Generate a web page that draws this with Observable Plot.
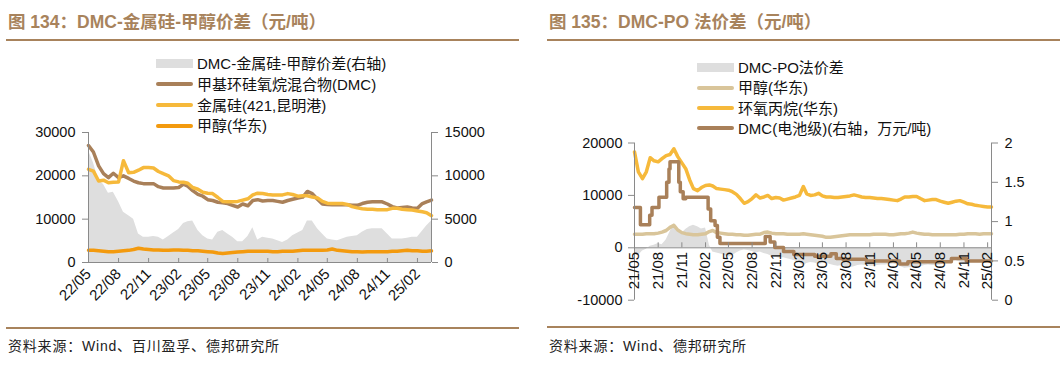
<!DOCTYPE html>
<html><head><meta charset="utf-8">
<script src="https://cdn.jsdelivr.net/npm/d3@7"></script>
<script src="https://cdn.jsdelivr.net/npm/@observablehq/plot@0.6"></script>
<style>
body{margin:0;background:#fff;width:1063px;height:368px;position:relative;overflow:hidden;font-family:"Liberation Sans","Noto Sans CJK SC",sans-serif;}
.abs{position:absolute;}
.title{font-size:17.5px;font-weight:bold;color:#a8835c;white-space:nowrap;line-height:1;}
.rule{height:2px;background:#a8835c;}
.leg{font-size:15px;color:#111;white-space:nowrap;display:flex;align-items:center;height:20px;line-height:1;}
.sw{width:37px;margin-right:4px;border-radius:2px;}
.cap{font-size:14px;color:#222;letter-spacing:0.8px;white-space:nowrap;line-height:1;}
</style></head><body>
<script>
// ---------------- Panel 1 (图134) data ----------------
const title1 = "图 134：DMC-金属硅-甲醇价差（元/吨）";
const caption1 = "资料来源：Wind、百川盈孚、德邦研究所";
const legendLabels1 = ["DMC-金属硅-甲醇价差(右轴)", "甲基环硅氧烷混合物(DMC)", "金属硅(421,昆明港)", "甲醇(华东)"];
const dates1 = ["2022-05-01","2022-05-16","2022-06-01","2022-06-16","2022-07-01","2022-07-16","2022-08-01","2022-08-16","2022-09-01","2022-09-16",
"2022-10-01","2022-10-16","2022-11-01","2022-11-16","2022-12-01","2022-12-16","2023-01-01","2023-01-16","2023-02-01","2023-02-16",
"2023-03-01","2023-03-16","2023-04-01","2023-04-16","2023-05-01","2023-05-16","2023-06-01","2023-06-16","2023-07-01","2023-07-16",
"2023-08-01","2023-08-16","2023-09-01","2023-09-16","2023-10-01","2023-10-16","2023-11-01","2023-11-16","2023-12-01","2023-12-16",
"2024-01-01","2024-01-16","2024-02-01","2024-02-16","2024-03-01","2024-03-16","2024-04-01","2024-04-16","2024-05-01","2024-05-16",
"2024-06-01","2024-06-16","2024-07-01","2024-07-16","2024-08-01","2024-08-16","2024-09-01","2024-09-16","2024-10-01","2024-10-16",
"2024-11-01","2024-11-16","2024-12-01","2024-12-16","2025-01-01","2025-01-16","2025-02-01","2025-02-16","2025-03-01","2025-03-16"];
const dmc1 = [27000,25500,22300,20500,19600,20600,19600,20000,19400,18800,
18400,18200,18200,18200,17500,17200,17200,17200,17300,18100,
17600,16600,15700,15300,14500,14300,13900,13800,13600,13200,
12800,13500,13100,14300,14500,14200,14300,14300,14100,13900,
14300,14600,14900,15100,16400,15900,14600,13500,13400,13300,
13300,13300,13300,13200,13200,13600,13900,14000,14000,14000,
13500,12900,12600,12700,12800,12600,12500,13600,14000,14400];
const si1 = [21500,21100,18800,19000,18400,18500,18600,23500,20700,20800,
21300,21900,21900,21800,21000,20500,20000,18900,18600,18500,
18300,17300,16900,16200,16000,15900,15000,14100,14000,14000,
14100,14400,14700,15600,16000,15900,15700,15600,15600,15600,
15900,15700,15300,15400,15400,15100,14900,14100,13700,13600,
13600,13600,13400,12900,12600,12400,12300,12300,12200,12200,
12200,12500,12500,12300,12200,12100,11900,11700,11500,10800];
const meoh1 = [2800,2800,2700,2600,2500,2500,2600,2700,2800,3000,
3300,3100,3000,2900,2900,2800,2800,2900,2900,2800,
2800,2700,2700,2600,2500,2400,2200,2100,2200,2300,
2400,2500,2600,2600,2600,2600,2600,2500,2500,2600,
2600,2600,2700,2800,2800,2800,2800,2800,2900,3100,
2800,2700,2600,2500,2500,2400,2500,2500,2500,2500,
2500,2600,2600,2700,2800,2700,2700,2600,2600,2700];
const gap1 = [12900,11500,9500,9000,8000,8100,7000,5800,5400,5000,
3300,2900,2900,3000,2900,2600,3000,3400,3800,4500,
4700,4800,3700,3100,2700,2600,3500,3700,3300,2900,
2400,2400,3000,4000,2600,2900,2800,2700,2500,2300,
2600,3100,3400,3700,4800,4800,3900,3300,2700,2600,
2500,2700,2900,3000,3100,3500,3800,3900,3900,3900,
3300,2700,2700,2700,2800,2900,2900,3600,4200,4800];
const xTicks1 = ["2022-05-01","2022-08-01","2022-11-01","2023-02-01","2023-05-01","2023-08-01","2023-11-01","2024-02-01","2024-05-01","2024-08-01","2024-11-01","2025-02-01"];
const yTicksL1 = [0,10000,20000,30000];
const yTicksR1 = [0,5000,10000,15000];

// ---------------- Panel 2 (图135) data ----------------
const title2 = "图 135：DMC-PO 法价差（元/吨）";
const caption2 = "资料来源：Wind、德邦研究所";
const legendLabels2 = ["DMC-PO法价差", "甲醇(华东)", "环氧丙烷(华东)", "DMC(电池级)(右轴，万元/吨)"];
const dates2 = ["2021-05-01","2021-05-16","2021-06-01","2021-06-16","2021-07-01","2021-07-16","2021-08-01","2021-08-16","2021-09-01","2021-09-16",
"2021-10-01","2021-10-16","2021-11-01","2021-11-16","2021-12-01","2021-12-16","2022-01-01","2022-01-16","2022-02-01","2022-02-16",
"2022-03-01","2022-03-16","2022-04-01","2022-04-16","2022-05-01","2022-05-16","2022-06-01","2022-06-16","2022-07-01","2022-07-16",
"2022-08-01","2022-08-16","2022-09-01","2022-09-16","2022-10-01","2022-10-16","2022-11-01","2022-11-16","2022-12-01","2022-12-16",
"2023-01-01","2023-01-16","2023-02-01","2023-02-16","2023-03-01","2023-03-16","2023-04-01","2023-04-16","2023-05-01","2023-05-16",
"2023-06-01","2023-06-16","2023-07-01","2023-07-16","2023-08-01","2023-08-16","2023-09-01","2023-09-16","2023-10-01","2023-10-16",
"2023-11-01","2023-11-16","2023-12-01","2023-12-16","2024-01-01","2024-01-16","2024-02-01","2024-02-16","2024-03-01","2024-03-16",
"2024-04-01","2024-04-16","2024-05-01","2024-05-16","2024-06-01","2024-06-16","2024-07-01","2024-07-16","2024-08-01","2024-08-16",
"2024-09-01","2024-09-16","2024-10-01","2024-10-16","2024-11-01","2024-11-16","2024-12-01","2024-12-16","2025-01-01","2025-01-16",
"2025-02-01","2025-02-16"];
const po2 = [18300,14500,13200,14500,17200,16600,16400,17000,17600,17800,
18900,17400,16200,15100,13000,11300,10900,11500,11900,12000,
11800,11300,11200,11100,11000,10700,10200,9400,8500,8800,
9400,10100,9500,9700,10000,9400,9600,9500,9100,9300,
9500,9700,10000,11700,10300,10000,10100,10400,9900,9700,
9700,9600,9600,9700,9800,9900,10100,9900,9700,9600,
9600,9500,9400,9400,9300,9200,9100,9000,9300,9700,
9700,9800,9800,9400,9000,9100,9200,9200,8900,8700,
8500,8700,8900,9000,8700,8400,8300,8100,8000,7900,
7800,7800];
const meoh2 = [2600,2600,2600,2700,2700,2700,2800,3000,3300,3900,
4300,3400,2900,2700,2600,2500,2500,2600,2700,3100,
3300,2900,2800,2700,2600,2600,2500,2500,2400,2400,
2500,2600,2600,2900,3000,2800,2700,2700,2700,2600,
2600,2600,2600,2700,2600,2500,2400,2300,2200,2000,
2000,2100,2200,2300,2400,2500,2500,2500,2500,2500,
2500,2600,2600,2600,2600,2500,2500,2600,2700,2700,
2800,3000,2800,2700,2600,2600,2500,2500,2500,2500,
2500,2500,2500,2600,2600,2700,2700,2700,2600,2700,
2700,2700];
const gap2 = [-1200,-1500,-600,-300,300,500,800,600,1500,3000,
4600,3200,2800,3500,4000,4300,4000,3600,3800,500,
-800,-1000,-1200,-1400,-1800,-1500,-1000,-600,-400,-500,
-700,-1000,-800,-1100,-1300,-1600,-1800,-2000,-1900,-2100,
-2300,-2500,-2800,-3500,-3000,-2800,-2900,-3200,-3000,-2900,
-3200,-3400,-3500,-3400,-3600,-3800,-3600,-3400,-3300,-3400,
-3500,-3500,-3400,-3300,-3300,-3200,-3100,-3300,-3600,-3900,
-3800,-3800,-3800,-3600,-3400,-3300,-3400,-3400,-3300,-3100,
-3000,-2600,-2400,-2700,-2900,-2900,-2800,-2600,-2500,-2400,
-2400,-2300];
const dmcDates2 = ["2021-05-01","2021-05-24","2021-06-29","2021-07-08","2021-08-04","2021-09-03","2021-09-12","2021-09-16","2021-10-20","2021-10-26",
"2021-11-06","2021-11-16","2022-02-11","2022-02-21","2022-03-10","2022-03-19","2022-03-29","2022-09-21","2022-10-10","2022-10-28",
"2022-12-01","2023-01-10","2023-04-01","2023-06-03","2023-06-24","2023-07-19","2023-10-19","2024-02-25","2024-03-28","2024-09-13",
"2024-11-10","2025-02-16"];
const dmc2 = [1.18,0.96,1.08,1.18,1.31,1.50,1.67,1.76,1.50,1.38,
1.29,1.31,1.16,1.01,0.95,0.80,0.72,0.81,0.74,0.67,
0.62,0.58,0.56,0.59,0.53,0.52,0.50,0.46,0.49,0.53,
0.50,0.50];
const xTicks2 = ["2021-05-01","2021-08-01","2021-11-01","2022-02-01","2022-05-01","2022-08-01","2022-11-01","2023-02-01","2023-05-01","2023-08-01","2023-11-01","2024-02-01","2024-05-01","2024-08-01","2024-11-01","2025-02-01"];
const yTicksL2 = [-10000,0,10000,20000];
const yTicksR2 = [0,0.5,1,1.5,2];

// ---------------- styles ----------------
const C_GRAY = "#dedede", C_BROWN = "#a98059", C_YEL = "#f6b93b", C_ORG = "#f39a0e", C_TAN = "#d9c59a";
const AXIS = "#8a8a8a", TXT = "#111";
const parse = d3.utcParse("%Y-%m-%d");
const fmtX = d3.utcFormat("%y/%m");
const fmtN = v => String(v);

function el(cls, css, html) {
  const d = document.createElement("div");
  d.className = "abs " + cls;
  Object.assign(d.style, css);
  if (html != null) d.textContent = html;
  document.body.appendChild(d);
  return d;
}
function legend(x, ys, labels, kinds, colors) {
  labels.forEach((t, i) => {
    const row = el("leg", {left: x + "px", top: (ys[i] - 10) + "px"});
    const sw = document.createElement("div");
    sw.className = "sw";
    sw.style.background = colors[i];
    sw.style.height = kinds[i] === "area" ? "9px" : "4px";
    if (kinds[i] === "area") sw.style.borderRadius = "0";
    row.appendChild(sw);
    const s = document.createElement("span");
    s.textContent = t;
    row.appendChild(s);
  });
}
const plotStyle = {fontFamily: '"Liberation Sans","Noto Sans CJK SC",sans-serif', fontSize: "14.5px", color: TXT, background: "transparent", overflow: "visible"};

// ---------------- Panel 1 ----------------
el("title", {left: "8px", top: "14px"}, title1);
el("rule", {left: "6px", top: "39px", width: "513px"});
legend(156, [63.5, 84, 105, 125.5], legendLabels1, ["area","line","line","line"], [C_GRAY, C_BROWN, C_YEL, C_ORG]);

const rows1 = dates1.map((d, i) => ({date: parse(d), dmc: dmc1[i], si: si1[i], meoh: meoh1[i], gap: gap1[i]}));
const t1 = xTicks1.map(parse);
const p1 = Plot.plot({
  width: 530, height: 200,
  marginLeft: 88, marginRight: 99, marginTop: 12, marginBottom: 58,
  style: plotStyle,
  x: {type: "utc", domain: [rows1[0].date, rows1[rows1.length - 1].date]},
  y: {domain: [yTicksL1[0], yTicksL1[yTicksL1.length - 1]]},
  marks: [
    Plot.areaY(rows1, {x: "date", y1: 0, y2: d => d.gap * 2, fill: C_GRAY}),
    Plot.line(rows1, {x: "date", y: "dmc", stroke: C_BROWN, strokeWidth: 3.5}),
    Plot.line(rows1, {x: "date", y: "si", stroke: C_YEL, strokeWidth: 3.5}),
    Plot.line(rows1, {x: "date", y: "meoh", stroke: C_ORG, strokeWidth: 3.5}),
    Plot.ruleX([rows1[0].date, rows1[rows1.length - 1].date], {stroke: AXIS}),
    Plot.ruleY([0], {stroke: AXIS}),
    Plot.tickX(t1, {x: d => d, insetTop: 126, stroke: AXIS}),
    Plot.axisX({ticks: t1, tickFormat: fmtX, tickRotate: -45, tickSize: 0, tickPadding: 9, fill: TXT, fontSize: 15, label: null}),
    Plot.axisY({anchor: "left", ticks: yTicksL1, tickFormat: fmtN, tickSize: 6, tickPadding: 7, stroke: AXIS, fill: TXT, label: null}),
    Plot.axisY({anchor: "right", ticks: yTicksR1.map(v => v * 2), tickFormat: v => String(v / 2), tickSize: 6, tickPadding: 7, stroke: AXIS, fill: TXT, label: null})
  ]
});
p1.style.position = "absolute"; p1.style.left = "0px"; p1.style.top = "120px";
document.body.appendChild(p1);

el("rule", {left: "6px", top: "326.5px", width: "513px"});
el("cap", {left: "8px", top: "339px"}, caption1);

// ---------------- Panel 2 ----------------
el("title", {left: "549px", top: "14px"}, title2);
el("rule", {left: "547px", top: "39px", width: "513px"});
legend(697, [67, 87.5, 108, 128], legendLabels2, ["area","line","line","line"], [C_GRAY, C_TAN, C_YEL, C_BROWN]);

const rows2 = dates2.map((d, i) => ({date: parse(d), po: po2[i], meoh: meoh2[i], gap: gap2[i]}));
const dmcRows2 = dmcDates2.map((d, i) => ({date: parse(d), v: dmc2[i]}));
const t2 = xTicks2.map(parse);
const toL = v => v * 15000 - 10000;   // right axis (0..2) onto left axis (-10000..20000)
const p2 = Plot.plot({
  width: 533, height: 200,
  marginLeft: 104, marginRight: 72, marginTop: 22.5, marginBottom: 20.3,
  style: plotStyle,
  x: {type: "utc", axis: null, domain: [rows2[0].date, rows2[rows2.length - 1].date]},
  y: {domain: [yTicksL2[0], yTicksL2[yTicksL2.length - 1]]},
  marks: [
    Plot.areaY(rows2, {x: "date", y1: 0, y2: "gap", fill: C_GRAY}),
    Plot.ruleY([0], {stroke: AXIS}),
    Plot.line(rows2, {x: "date", y: "meoh", stroke: C_TAN, strokeWidth: 3.5}),
    Plot.line(rows2, {x: "date", y: "po", stroke: C_YEL, strokeWidth: 3.5}),
    Plot.line(dmcRows2, {x: "date", y: d => toL(d.v), stroke: C_BROWN, strokeWidth: 3.5, curve: "step-after"}),
    Plot.ruleX([rows2[0].date, rows2[rows2.length - 1].date], {stroke: AXIS}),
    Plot.ruleX(t2, {x: d => d, y1: 0, y2: 0, insetTop: -5, stroke: AXIS}),
    Plot.text(t2, {x: d => d, y: 0, text: d => fmtX(d), rotate: -90, textAnchor: "end", dy: 4, fontSize: 15, fill: TXT}),
    Plot.axisY({anchor: "left", ticks: yTicksL2, tickFormat: fmtN, tickSize: 6, tickPadding: 6, stroke: AXIS, fill: TXT, label: null}),
    Plot.axisY({anchor: "right", ticks: yTicksR2.map(toL), tickFormat: v => String(Math.round((v + 10000) / 15000 * 10) / 10), tickSize: 6, tickPadding: 7, stroke: AXIS, fill: TXT, label: null})
  ]
});
p2.style.position = "absolute"; p2.style.left = "530px"; p2.style.top = "120px";
document.body.appendChild(p2);

el("rule", {left: "547px", top: "326px", width: "513px"});
el("cap", {left: "549px", top: "339px"}, caption2);
</script>
</body></html>
